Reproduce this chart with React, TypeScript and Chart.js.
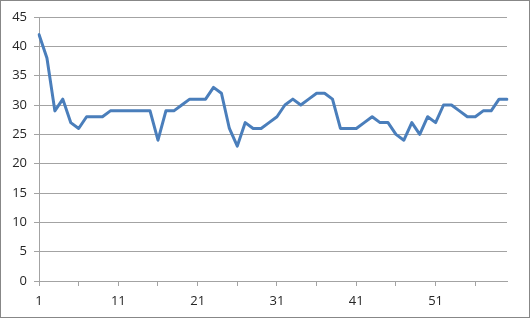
import React, { useEffect, useRef } from 'react';
import { Chart, registerables } from 'chart.js';

Chart.register(...registerables);

const categories: string[] = Array.from({ length: 60 }, (_, i) => String(i + 1));

const values: number[] = [
  42, 38, 29, 31, 27, 26, 28, 28, 28, 29,
  29, 29, 29, 29, 29, 24, 29, 29, 30, 31,
  31, 31, 33, 32, 26, 23, 27, 26, 26, 27,
  28, 30, 31, 30, 31, 32, 32, 31, 26, 26,
  26, 27, 28, 27, 27, 25, 24, 27, 25, 28,
  27, 30, 30, 29, 28, 28, 29, 29, 31, 31,
];

const xTickLabels: string[] = ['1', '11', '21', '31', '41', '51'];
const yMin = 0;
const yMax = 45;
const yStep = 5;

const GRID = '#a3a3a3';
const TEXT = '#262626';
const FONT = { family: '"Open Sans", "Liberation Sans", sans-serif', size: 13 };

export default function App() {
  const ref = useRef<HTMLCanvasElement | null>(null);

  useEffect(() => {
    if (!ref.current) return;
    const chart = new Chart(ref.current, {
      type: 'line',
      data: {
        labels: categories,
        datasets: [
          {
            data: values,
            borderColor: '#4a7ebb',
            borderWidth: 3,
            pointRadius: 0,
            tension: 0,
            fill: false,
            borderJoinStyle: 'round',
            borderCapStyle: 'round',
          },
        ],
      },
      options: {
        responsive: false,
        animation: false,
        layout: { padding: { left: 8, right: 22, top: 16, bottom: 8 } },
        plugins: { legend: { display: false }, tooltip: { enabled: false } },
        scales: {
          x: {
            type: 'category',
            offset: false,
            grid: {
              display: true,
              drawOnChartArea: false,
              drawTicks: true,
              tickLength: 5,
              tickColor: (ctx: any) => (ctx.index % 5 === 0 ? GRID : 'rgba(0,0,0,0)'),
            },
            border: { display: true, color: GRID, width: 1 },
            ticks: {
              autoSkip: false,
              maxRotation: 0,
              minRotation: 0,
              padding: 7,
              color: TEXT,
              font: FONT,
              callback: (_v: any, i: number) =>
                xTickLabels.includes(categories[i]) ? categories[i] : '',
            },
            afterFit: (scale: any) => {
              scale.height = 28;
            },
          },
          y: {
            min: yMin,
            max: yMax,
            grid: {
              color: GRID,
              lineWidth: 1,
              drawTicks: true,
              tickLength: 5,
              tickColor: GRID,
            },
            border: { display: true, color: GRID, width: 1 },
            ticks: {
              stepSize: yStep,
              padding: 7,
              color: TEXT,
              font: FONT,
            },
            afterFit: (scale: any) => {
              scale.width = 30;
            },
          },
        },
      },
    });
    return () => chart.destroy();
  }, []);

  return (
    <div
      style={{
        position: 'absolute',
        left: 0,
        top: 0,
        width: 530,
        height: 318,
        border: '1px solid #878787',
        boxSizing: 'border-box',
        background: '#fff',
      }}
    >
      <canvas ref={ref} width={528} height={316} style={{ display: 'block' }} />
    </div>
  );
}
